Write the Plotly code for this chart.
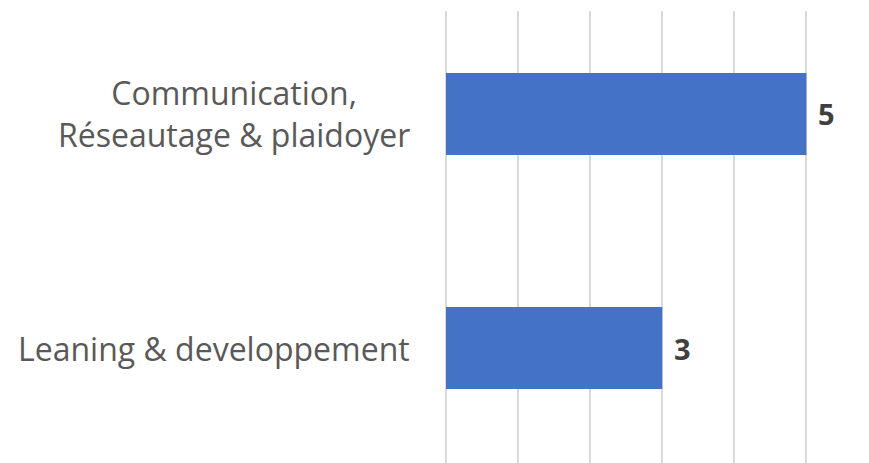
import plotly.graph_objects as go

categories = ["Leaning & developpement", "Communication,<br>Réseautage & plaidoyer"]
values = [3, 5]

fig = go.Figure()
fig.add_trace(go.Bar(
    x=values, y=categories, orientation="h",
    marker=dict(color="#4472C4", line=dict(width=0)),
    width=0.35, hoverinfo="skip",
))

for c, v in zip(categories, values):
    fig.add_annotation(x=0, xref="paper", y=c, yref="y", text=c,
                       xanchor="right", yanchor="middle", align="center",
                       xshift=-34, showarrow=False,
                       font=dict(family="Open Sans", size=32, color="#595959"))
    fig.add_annotation(x=v, xref="x", y=c, yref="y", text=f"<b>{v}</b>",
                       xanchor="left", yanchor="middle", xshift=10,
                       showarrow=False,
                       font=dict(family="Open Sans", size=29, color="#404040"))

fig.update_layout(
    width=869, height=463,
    margin=dict(l=438, r=67, t=3, b=8),
    paper_bgcolor="white", plot_bgcolor="white",
    showlegend=False,
    xaxis=dict(range=[0, 5.05], dtick=1, showticklabels=False, showgrid=True,
               gridcolor="#D9D9D9", gridwidth=1.5, zeroline=True,
               zerolinecolor="#D9D9D9", zerolinewidth=1.5, showline=False, fixedrange=True),
    yaxis=dict(type="category", categoryorder="array", categoryarray=categories,
               range=[-0.491, 1.44], showticklabels=False, showgrid=False,
               showline=False, zeroline=False, fixedrange=True),
)

fig.write_html("out.html")
